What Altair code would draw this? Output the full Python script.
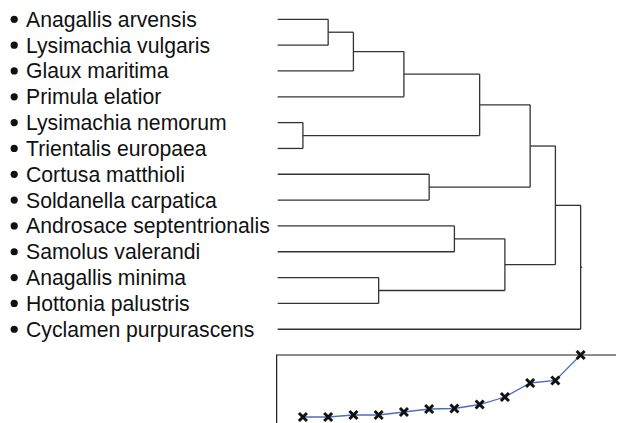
import altair as alt
import pandas as pd

# Leaves of the dendrogram, top to bottom
leaves = [
    "Anagallis arvensis", "Lysimachia vulgaris", "Glaux maritima", "Primula elatior",
    "Lysimachia nemorum", "Trientalis europaea", "Cortusa matthioli", "Soldanella carpatica",
    "Androsace septentrionalis", "Samolus valerandi", "Anagallis minima", "Hottonia palustris",
    "Cyclamen purpurascens",
]
# Merges (scipy-like): new cluster id = 13 + row; (left, right, height)
merge_left = [4, 0, 14, 10, 15, 6, 8, 17, 19, 20, 22, 23]
merge_right = [5, 1, 2, 11, 3, 7, 9, 13, 16, 18, 21, 12]
merge_height = [1, 2, 3, 4, 5, 6, 7, 8, 9, 10, 11, 12]

# Scree-type plot of the merge levels (bottom panel)
scree_step = [1, 2, 3, 4, 5, 6, 7, 8, 9, 10, 11, 12]
scree_value = [8, 8, 10, 10, 13, 16, 16.5, 20.5, 28, 42, 44.5, 70]

# ---- build dendrogram segments from the tree structure
n = len(leaves)
pos_y = {i: float(i) for i in range(n)}
pos_h = {i: 0.0 for i in range(n)}
segs = []
for k, (a, b, h) in enumerate(zip(merge_left, merge_right, merge_height)):
    cid = n + k
    for c in (a, b):
        segs.append(dict(x=pos_h[c], x2=h, y=pos_y[c], y2=pos_y[c]))
    segs.append(dict(x=h, x2=h, y=pos_y[a], y2=pos_y[b]))
    pos_y[cid] = (pos_y[a] + pos_y[b]) / 2
    pos_h[cid] = h
root = n + len(merge_height) - 1
segs.append(dict(x=pos_h[root], x2=pos_h[root] + 0.06, y=pos_y[root], y2=pos_y[root]))
seg_df = pd.DataFrame(segs)
leaf_df = pd.DataFrame({"name": leaves, "idx": list(range(n))})
scree_df = pd.DataFrame({"step": scree_step, "value": scree_value})
frame_df = pd.DataFrame({"x": [-0.04], "x2": [30], "y": [max(scree_value)], "y2": [-20]})

xs = alt.Scale(domain=[-10.68, 13.40])
ys_tree = alt.Scale(domain=[-0.4375, 15.63], reverse=True)
ys_scree = alt.Scale(domain=[2, 417])

rules = alt.Chart(seg_df).mark_rule(color="#333333", strokeWidth=1.3).encode(
    x=alt.X("x:Q", scale=xs, axis=None),
    x2="x2:Q",
    y=alt.Y("y:Q", scale=ys_tree, axis=None),
    y2="y2:Q",
)
bullets = alt.Chart(leaf_df).mark_circle(color="#111111", opacity=1, size=52).encode(
    x=alt.value(6.2),
    y=alt.Y("idx:Q", scale=ys_tree, axis=None),
)
labels = alt.Chart(leaf_df).mark_text(
    align="left", baseline="alphabetic", dy=7.5, font="Liberation Sans",
    fontSize=21.2, color="#111111",
).encode(
    x=alt.value(18),
    y=alt.Y("idx:Q", scale=ys_tree, axis=None),
    text="name:N",
)
tree = alt.layer(rules, bullets, labels)

frame = alt.Chart(frame_df).mark_rect(filled=False, stroke="#1a1a1a", strokeWidth=1.2, clip=True).encode(
    x=alt.X("x:Q", scale=xs, axis=None),
    x2="x2:Q",
    y=alt.Y("y:Q", scale=ys_scree, axis=None),
    y2="y2:Q",
)
line = alt.Chart(scree_df).mark_line(color="#4a6fc0", strokeWidth=1.3).encode(
    x=alt.X("step:Q", scale=xs, axis=None),
    y=alt.Y("value:Q", scale=ys_scree, axis=None),
)
pts = alt.Chart(scree_df).mark_point(
    shape="M-1,-1L1,1M1,-1L-1,1", size=64, filled=False, stroke="#111111", strokeWidth=3, opacity=1,
).encode(
    x=alt.X("step:Q", scale=xs, axis=None),
    y=alt.Y("value:Q", scale=ys_scree, axis=None),
)
scree = alt.layer(frame, line, pts)

chart = alt.layer(tree, scree).resolve_scale(y="independent").properties(
    width=608, height=415, padding=0,
    autosize=alt.AutoSizeParams(type="none"),
    background="white",
).configure_view(stroke=None)

chart.save("out.html", embed_options={"renderer": "svg", "actions": False})
